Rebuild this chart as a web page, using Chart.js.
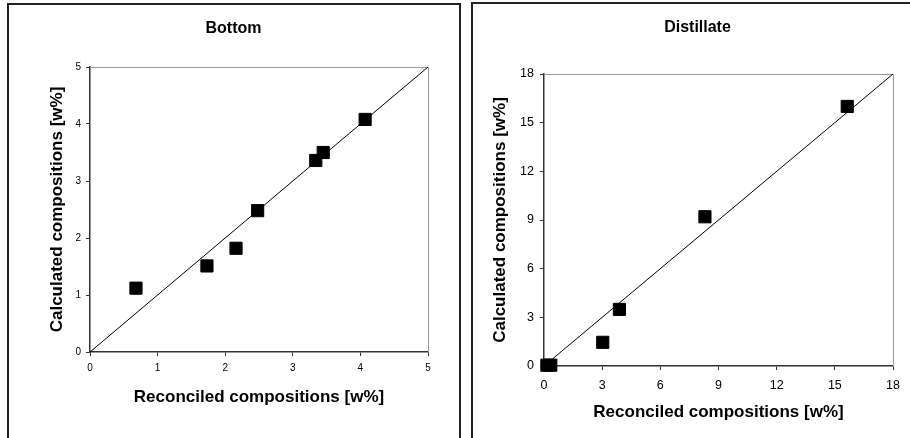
<!DOCTYPE html>
<html>
<head>
<meta charset="utf-8">
<script src="https://cdn.jsdelivr.net/npm/chart.js@4/dist/chart.umd.min.js"></script>
<style>
  html, body { margin: 0; padding: 0; background: #fff; width: 910px; height: 438px; overflow: hidden; }
  .panel { position: absolute; border: 2px solid #222; box-sizing: content-box; }
  canvas { position: absolute; }
</style>
</head>
<body>
<div class="panel" style="left:7px; top:3px; width:450px; height:500px;"></div>
<div class="panel" style="left:471px; top:2px; width:500px; height:500px;"></div>
<canvas id="c1" width="451" height="433" style="left:8px; top:5px;"></canvas>
<canvas id="c2" width="438" height="434" style="left:472px; top:4px;"></canvas>
<script>
// ---- Data ----
const bottomTitle = "Bottom";
const bottomReconciled = [0.68, 1.73, 2.16, 2.48, 3.34, 3.45, 4.07];
const bottomCalculated = [1.12, 1.51, 1.82, 2.48, 3.36, 3.50, 4.08];
const bottomAxisMax = 5;
const bottomTickStep = 1;

const distTitle = "Distillate";
const distReconciled = [0.15, 0.35, 3.03, 3.89, 8.30, 15.64];
const distCalculated = [0.05, 0.05, 1.46, 3.49, 9.20, 16.00];
const distAxisMax = 18;
const distTickStep = 3;

const xAxisTitle = "Reconciled compositions [w%]";
const yAxisTitle = "Calculated compositions [w%]";

const FONT = "'Liberation Sans', Arial, sans-serif";

const frameAndTitle = {
  id: 'frameAndTitle',
  beforeDatasetsDraw(chart, args, opts) {
    const {ctx, chartArea: a} = chart;
    ctx.save();
    ctx.strokeStyle = '#9a9a9a';
    ctx.lineWidth = 1;
    ctx.beginPath();
    ctx.moveTo(a.left, a.top + 0.5);
    ctx.lineTo(a.right + 0.5, a.top + 0.5);
    ctx.lineTo(a.right + 0.5, a.bottom);
    ctx.stroke();
    ctx.restore();
  },
  afterDraw(chart, args, opts) {
    const ctx = chart.ctx;
    ctx.save();
    ctx.fillStyle = '#000';
    ctx.font = "bold 16px " + FONT;
    ctx.textAlign = 'center';
    ctx.textBaseline = 'middle';
    ctx.fillText(opts.text, opts.x, opts.y);
    ctx.restore();
  }
};

function makeChart(id, title, xs, ys, maxV, step, cfg) {
  const pts = xs.map((x, i) => ({x: x, y: ys[i]}));
  return new Chart(document.getElementById(id), {
    type: 'scatter',
    data: {
      datasets: [
        {
          type: 'line',
          data: [{x: 0, y: 0}, {x: maxV, y: maxV}],
          borderColor: '#000',
          borderWidth: 1,
          pointRadius: 0,
          fill: false,
          order: 2
        },
        {
          data: pts,
          pointStyle: 'rect',
          pointRadius: 8.6,
          backgroundColor: '#000',
          borderColor: '#000',
          borderWidth: 1,
          clip: false,
          order: 1
        }
      ]
    },
    options: {
      responsive: false,
      animation: false,
      events: [],
      layout: { padding: { left: 0, right: cfg.padRight, top: cfg.padTop, bottom: 0 } },
      plugins: {
        legend: { display: false },
        tooltip: { enabled: false },
        frameAndTitle: { text: title, x: cfg.titleX, y: cfg.titleY }
      },
      scales: {
        x: {
          type: 'linear',
          min: 0, max: maxV,
          afterFit: s => { s.height = cfg.xHeight; },
          ticks: { stepSize: step, color: '#000', padding: cfg.xTickPad, font: { family: FONT, size: cfg.tickSize } },
          grid: { display: true, drawOnChartArea: false, drawTicks: true, tickLength: 4, color: '#333', lineWidth: 1 },
          border: { display: true, color: '#333', width: 1.5 },
          title: { display: true, text: xAxisTitle, color: '#000', font: { family: FONT, size: 17, weight: 'bold' }, padding: { top: 0, bottom: cfg.xTitlePad } }
        },
        y: {
          type: 'linear',
          min: 0, max: maxV,
          afterFit: s => { s.width = cfg.yWidth; },
          ticks: { stepSize: step, color: '#000', padding: cfg.yTickPad, font: { family: FONT, size: cfg.tickSize } },
          grid: { display: true, drawOnChartArea: false, drawTicks: true, tickLength: 4, color: '#333', lineWidth: 1 },
          border: { display: true, color: '#333', width: 1.5 },
          title: { display: true, text: yAxisTitle, color: '#000', font: { family: FONT, size: 17, weight: 'bold' }, padding: { top: cfg.yTitlePad, bottom: 0 } }
        }
      }
    },
    plugins: [frameAndTitle]
  });
}

makeChart('c1', bottomTitle, bottomReconciled, bottomCalculated, bottomAxisMax, bottomTickStep, {
  padRight: 31, padTop: 62, xHeight: 86, yWidth: 82,
  tickSize: 10, xTickPad: 6, yTickPad: 5,
  xTitlePad: 30.8, yTitlePad: 38.8,
  titleX: 225.5, titleY: 24
});

makeChart('c2', distTitle, distReconciled, distCalculated, distAxisMax, distTickStep, {
  padRight: 17, padTop: 70, xHeight: 72, yWidth: 72,
  tickSize: 12.5, xTickPad: 8, yTickPad: 6,
  xTitlePad: 15.8, yTitlePad: 17.8,
  titleX: 225.5, titleY: 24
});
</script>
</body>
</html>
